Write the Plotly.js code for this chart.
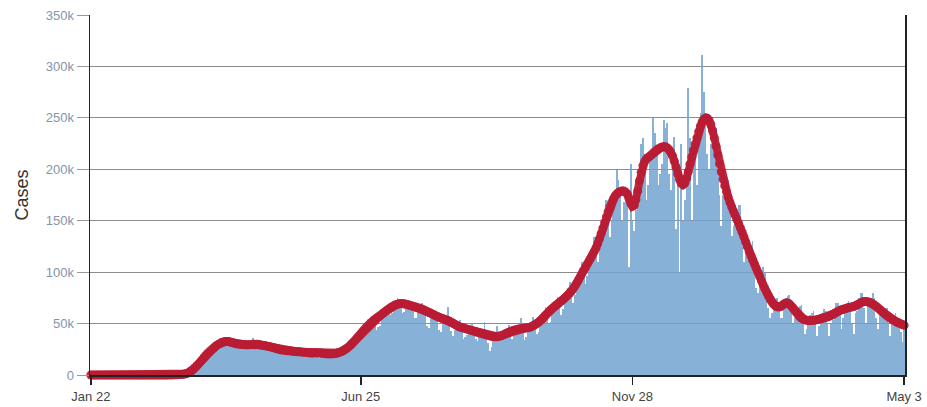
<!DOCTYPE html>
<html>
<head>
<meta charset="utf-8">
<script src="https://cdn.plot.ly/plotly-3.0.1.min.js"></script>
<style>
  html, body { margin: 0; padding: 0; background: #fff; }
  #chart { width: 927px; height: 407px; }
</style>
</head>
<body>
<div id="chart"></div>
<script>
// First day of the series
const startDate = '2020-01-22';

// Daily new cases (thousands), one row per week starting Wednesday
const dailyCases = [
  0,0,0,0,0,0,0,
  0,0,0,0,0,0,0,
  0,0,0,0,0,0,0,
  0,0,0,0,0,0,0,
  0,0,0,0,0,0,0,
  0,0,0,0.01,0.01,0.02,0.03,
  0.05,0.08,0.1,0.12,0.15,0.2,0.3,
  0.4,0.5,0.7,0.8,0.9,1.3,1.8,
  2.5,4.7,6,7,8,10,11,
  13,17,19,20,19,20,25,
  27,29,33,34,28,30,30,
  32,33,36,31,28,26,27,
  30,32,34,30,26,27,25,
  29,31,36,33,26,25,25,
  28,31,33,29,25,23,24,
  27,29,28,26,21,19,22,
  21,27,25,24,19,21,22,
  23,26,24,21,18,19,19,
  21,23,25,23,19,17,21,
  21,22,24,22,18,17,18,
  21,23,25,25,19,19,23,
  26,28,32,33,27,31,36,
  38,40,45,43,40,41,46,
  51,56,50,44,47,48,60,
  62,60,68,60,58,60,63,
  71,75,74,65,60,61,64,
  71,73,70,66,55,55,60,
  68,70,68,58,48,46,56,
  55,57,62,55,44,42,53,
  54,55,66,54,43,38,44,
  48,48,53,48,35,37,39,
  44,44,50,43,35,33,41,
  41,44,52,41,31,23,27,
  34,36,48,43,35,34,38,
  40,45,49,42,35,38,40,
  40,45,55,43,34,37,42,
  50,52,56,50,40,42,50,
  58,62,66,60,50,52,60,
  68,72,76,70,58,64,70,
  80,85,90,85,70,78,86,
  98,104,110,100,88,96,106,
  120,126,134,128,110,122,138,
  148,158,170,160,134,150,162,
  172,199,190,175,150,168,183,
  180,105,205,150,140,160,180,
  200,225,230,215,170,185,215,
  220,250,235,220,185,195,205,
  248,240,245,195,180,200,231,
  142,195,100,225,150,170,200,
  279,230,150,220,210,185,230,
  255,311,275,255,215,200,225,
  235,235,240,200,175,145,175,
  185,195,190,170,135,145,150,
  155,165,165,145,110,130,115,
  120,125,130,105,85,80,95,
  95,105,100,85,65,55,60,
  70,65,75,70,55,55,70,
  75,77,78,63,50,55,58,
  65,67,68,56,40,45,55,
  58,60,62,50,38,48,55,
  60,64,62,50,38,50,53,
  62,70,70,60,45,55,60,
  70,72,65,50,40,60,62,
  75,80,80,65,50,70,70,
  75,80,75,55,45,60,60,
  62,65,65,50,38,50,55,
  60,55,55,42,32,48
];

// 7-day average of new cases (thousands)
const avgCases = [
  0,0,0,0,0,0,0,
  0,0,0,0,0,0,0,
  0,0,0,0,0,0,0,
  0,0,0,0,0,0,0,
  0,0,0,0,0,0,0,
  0,0,0,0,0,0.01,0.01,
  0.02,0.03,0.05,0.07,0.09,0.12,0.16,
  0.2,0.3,0.4,0.5,0.7,1.0,1.5,
  2.2,3.2,4.4,5.8,7.4,9.2,11,
  13,15,17,19,21,22.5,24,
  25.5,27,28.5,29.5,30.5,31.5,32,
  32.5,32.5,32.5,32,31.5,31,30.5,
  30.2,30,29.8,29.6,29.5,29.4,29.3,
  29.4,29.6,29.8,30,30,29.8,29.5,
  29.1,28.8,28.5,28.1,27.7,27.4,27,
  26.5,26,25.5,25,24.6,24.3,24,
  23.8,23.6,23.5,23.3,23,22.8,22.7,
  22.6,22.5,22.4,22.2,22,21.8,21.6,
  21.5,21.4,21.5,21.6,21.5,21.4,21.3,
  21.1,20.9,20.7,20.6,20.5,20.5,20.6,
  20.8,21.1,21.6,22.2,22.9,23.7,24.7,
  25.9,27.3,28.9,30.6,32.4,34.3,36.2,
  38.2,40.2,42.2,44.1,46,47.8,49.5,
  51.1,52.6,54,55.3,56.5,57.7,59,
  60.3,61.6,62.9,64.1,65.3,66.4,67.4,
  68.2,68.8,69.2,69.4,69.4,69.2,68.8,
  68.3,67.8,67.3,66.8,66.3,65.8,65.3,
  64.7,64.1,63.4,62.6,61.8,61,60.2,
  59.4,58.5,57.6,56.8,56.1,55.5,54.9,
  54.3,53.7,53,52.2,51.3,50.3,49.3,
  48.3,47.4,46.7,46.1,45.6,45.1,44.6,
  44.1,43.6,43.1,42.6,42.1,41.6,41.1,
  40.6,40.1,39.6,39.1,38.6,38.1,37.7,
  37.4,37.2,37.2,37.4,37.8,38.4,39.2,
  40,40.8,41.6,42.3,42.9,43.5,44,
  44.4,44.8,45.1,45.4,45.6,45.8,46,
  46.3,47,47.9,48.9,50,51.2,52.6,
  54.1,55.9,57.8,59.7,61.5,63.2,64.8,
  66.2,67.6,69,70.4,71.8,73.2,74.7,
  76.2,77.9,79.7,81.7,84,86.6,89.4,
  92.4,95.4,98.5,101.5,104.5,107.5,110.5,
  113.5,116.6,119.8,123.3,127.5,132.3,137.5,
  142.8,148.2,153.6,158.7,163.4,167.6,171.2,
  174,176,177.5,178.5,179,178.8,178,
  176,171.5,167,164,165,170.5,179,
  188.5,197,203.5,207.5,210,211.5,212.8,
  214.2,215.8,217.4,218.8,220,221,221.7,
  222,221.8,220.8,219,216.5,213,208,
  202,195.5,190,186.5,185,186.5,191,
  197.5,205,212,218.5,224.5,230.5,236.5,
  242,246,248.7,250,249.5,247.5,243.5,
  237.5,230.5,222.5,214,205.5,197.5,190.3,
  184,178.2,172.8,167.8,163.3,159.2,155.2,
  151.2,147.2,143.1,138.9,134.3,129.4,124.5,
  120,115.8,111.8,107.8,103.8,99.8,95.8,
  91.8,87.9,84.1,80.4,77,73.9,71.2,
  69,67.3,66.3,66,66.5,67.7,69,
  69.9,70,69.2,67.5,65.4,63.2,61,
  58.8,56.9,55.4,54.3,53.6,53.2,53,
  53,53,53.1,53.4,53.8,54.2,54.7,
  55.1,55.5,56,56.5,57.1,57.9,58.8,
  59.8,60.8,61.8,62.7,63.4,64,64.5,
  65,65.5,65.9,66.2,66.6,67.2,68.1,
  69.1,70.1,70.9,71.4,71.5,71.2,70.7,
  70,69.1,68,66.7,65.2,63.7,62.2,
  60.7,59.2,57.8,56.5,55.3,54.2,53.2,
  52.2,51.3,50.5,49.8,49,48.3
];

// Axis ticks
const xTickDates  = ['2020-01-22', '2020-06-25', '2020-11-28', '2021-05-03'];
const xTickLabels = ['Jan 22', 'Jun 25', 'Nov 28', 'May 3'];
const yTickVals   = [0, 50, 100, 150, 200, 250, 300, 350];
const yTickLabels = ['0', '50k', '100k', '150k', '200k', '250k', '300k', '350k'];

// Build the daily date categories from the start date
function isoDay(i) {
  const d = new Date(startDate + 'T00:00:00Z');
  d.setUTCDate(d.getUTCDate() + i);
  return d.toISOString().slice(0, 10);
}
const dates = dailyCases.map((_, i) => isoDay(i));

const bars = {
  type: 'bar',
  x: dates,
  y: dailyCases,
  marker: { color: 'rgba(112,162,206,0.84)', line: { width: 0 } },
  hoverinfo: 'x+y',
  showlegend: false
};

const avgLine = {
  type: 'scatter',
  mode: 'lines+markers',
  x: dates,
  y: avgCases,
  line: { color: 'rgba(186,28,52,0.92)', width: 8 },
  marker: { color: 'rgba(186,28,52,0.92)', size: 9, line: { width: 0 } },
  cliponaxis: false,
  hoverinfo: 'x+y',
  showlegend: false
};

const layout = {
  width: 927,
  height: 407,
  margin: { l: 90, r: 22, t: 15, b: 32 },
  paper_bgcolor: '#ffffff',
  plot_bgcolor: '#ffffff',
  bargap: 0,
  font: { family: 'Liberation Sans, Arial, sans-serif', size: 13, color: '#444' },
  xaxis: {
    type: 'date',
    range: ['2020-01-21T12:00', '2021-05-03T12:00'],
    tickvals: xTickDates,
    ticktext: xTickLabels,
    ticks: 'outside',
    ticklen: 8,
    tickwidth: 1.5,
    tickcolor: '#222',
    showgrid: false,
    showline: true,
    linecolor: '#222',
    linewidth: 2,
    zeroline: false,
    tickfont: { size: 13, color: '#444' },
    fixedrange: true
  },
  yaxis: {
    range: [0, 350],
    tickvals: yTickVals,
    ticktext: yTickLabels,
    ticks: 'outside',
    ticklen: 12,
    tickcolor: '#999',
    showgrid: true,
    gridcolor: '#8c8c8c',
    gridwidth: 1,
    showline: true,
    mirror: true,
    linecolor: '#222',
    linewidth: 1.5,
    zeroline: false,
    tickfont: { size: 13, color: '#8494ab' },
    title: { text: 'Cases', font: { size: 18, color: '#333' }, standoff: 12 },
    fixedrange: true
  }
};

Plotly.newPlot('chart', [bars, avgLine], layout, { displayModeBar: false, staticPlot: true });
</script>
</body>
</html>
